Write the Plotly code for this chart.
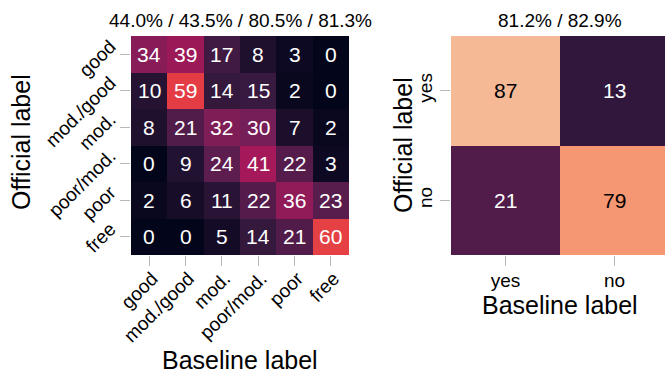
import plotly.graph_objects as go

# Six-level quality confusion matrix (row-normalised, %)
levels = ["good", "mod./good", "mod.", "poor/mod.", "poor", "free"]
matrix6 = [
    [34, 39, 17, 8, 3, 0],
    [10, 59, 14, 15, 2, 0],
    [8, 21, 32, 30, 7, 2],
    [0, 9, 24, 41, 22, 3],
    [2, 6, 11, 22, 36, 23],
    [0, 0, 5, 14, 21, 60],
]
title6 = "44.0% / 43.5% / 80.5% / 81.3%"

# Binary confusion matrix (row-normalised, %)
binary = ["yes", "no"]
matrix2 = [
    [87, 13],
    [21, 79],
]
title2 = "81.2% / 82.9%"

# rocket colour map
rocket = [
    [0.0, "#03051a"],
    [0.143, "#35193e"],
    [0.286, "#701f57"],
    [0.429, "#ad1759"],
    [0.571, "#e13342"],
    [0.714, "#f37651"],
    [0.857, "#f6b48f"],
    [1.0, "#faebdd"],
]


def hex_rgb(h):
    h = h.lstrip("#")
    return [int(h[i:i + 2], 16) for i in (0, 2, 4)]


def colour_at(v):
    for (p0, c0), (p1, c1) in zip(rocket[:-1], rocket[1:]):
        if p0 <= v <= p1:
            t = (v - p0) / (p1 - p0)
            a, b = hex_rgb(c0), hex_rgb(c1)
            return [a[i] + (b[i] - a[i]) * t for i in range(3)]
    return hex_rgb(rocket[-1][1])


def text_colour(value):
    rgb = [c / 255 for c in colour_at(value / 100)]
    lin = [c / 12.92 if c <= 0.03928 else ((c + 0.055) / 1.055) ** 2.4 for c in rgb]
    lum = 0.2126 * lin[0] + 0.7152 * lin[1] + 0.0722 * lin[2]
    return "black" if lum > 0.408 else "white"


FONT = "Liberation Sans, Arial, sans-serif"
W, H = 665, 375

fig = go.Figure()
fig.add_trace(go.Heatmap(
    z=matrix6, x=list(range(6)), y=list(range(6)),
    colorscale=rocket, zmin=0, zmax=100, showscale=False,
    xaxis="x", yaxis="y", hoverinfo="skip",
))
fig.add_trace(go.Heatmap(
    z=matrix2, x=list(range(2)), y=list(range(2)),
    colorscale=rocket, zmin=0, zmax=100, showscale=False,
    xaxis="x2", yaxis="y2", hoverinfo="skip",
))

annotations = []
for r, row in enumerate(matrix6):
    for c, v in enumerate(row):
        annotations.append(dict(x=c, y=r, xref="x", yref="y", text=str(v),
                                showarrow=False,
                                font=dict(family=FONT, size=21, color=text_colour(v))))
for r, row in enumerate(matrix2):
    for c, v in enumerate(row):
        annotations.append(dict(x=c, y=r, xref="x2", yref="y2", text=str(v),
                                showarrow=False,
                                font=dict(family=FONT, size=21, color=text_colour(v))))

def px(x):
    return x / W

def py(y):
    return 1 - y / H

title_font = dict(family=FONT, size=19, color="black")
label_font = dict(family=FONT, size=25, color="black")
annotations += [
    dict(x=px(240), y=py(20), xref="paper", yref="paper", text=title6,
         showarrow=False, font=title_font, xanchor="center", yanchor="middle"),
    dict(x=px(560), y=py(20), xref="paper", yref="paper", text=title2,
         showarrow=False, font=title_font, xanchor="center", yanchor="middle"),
    dict(x=px(240), y=0, xref="paper", yref="paper", text="Baseline label",
         showarrow=False, font=label_font, xanchor="center", yanchor="bottom",
         borderpad=0),
    dict(x=px(560), y=py(305), xref="paper", yref="paper", text="Baseline label",
         showarrow=False, font=label_font, xanchor="center", yanchor="middle",
         borderpad=0),
    dict(x=px(21), y=py(142), xref="paper", yref="paper", text="Official label",
         showarrow=False, font=label_font, textangle=-90,
         xanchor="center", yanchor="middle"),
    dict(x=px(403), y=py(145), xref="paper", yref="paper", text="Official label",
         showarrow=False, font=label_font, textangle=-90,
         xanchor="center", yanchor="middle"),
]

tick_style = dict(ticks="outside", ticklen=10, tickwidth=1, tickcolor="#b8b8b8",
                  showgrid=False, zeroline=False, showline=False, automargin=False,
                  tickfont=dict(family=FONT, size=19, color="black"))

fig.update_layout(
    width=W, height=H,
    margin=dict(l=0, r=0, t=0, b=0, autoexpand=False),
    paper_bgcolor="white", plot_bgcolor="white",
    annotations=annotations,
    xaxis=dict(domain=[px(131), px(349)], range=[-0.5, 5.5], anchor="y",
               tickvals=list(range(6)), ticktext=levels, tickangle=-45,
               ticklabelstandoff=-6, ticklabelshift=3, **tick_style),
    yaxis=dict(domain=[py(255), py(36)], range=[5.5, -0.5], anchor="x",
               tickvals=list(range(6)), ticktext=levels, tickangle=-45,
               ticklabelstandoff=6, ticklabelshift=10, **tick_style),
    xaxis2=dict(domain=[px(451), 1.0], range=[-0.5, 1.5 - 4 / 109], anchor="y2",
                tickvals=[0, 1], ticktext=binary, tickangle=0,
                ticklabelstandoff=-2, **tick_style),
    yaxis2=dict(domain=[py(255), py(36)], range=[1.5, -0.5], anchor="x2",
                tickvals=[0, 1], ticktext=binary, tickangle=-90, **tick_style),
)

fig.write_html("out.html")
